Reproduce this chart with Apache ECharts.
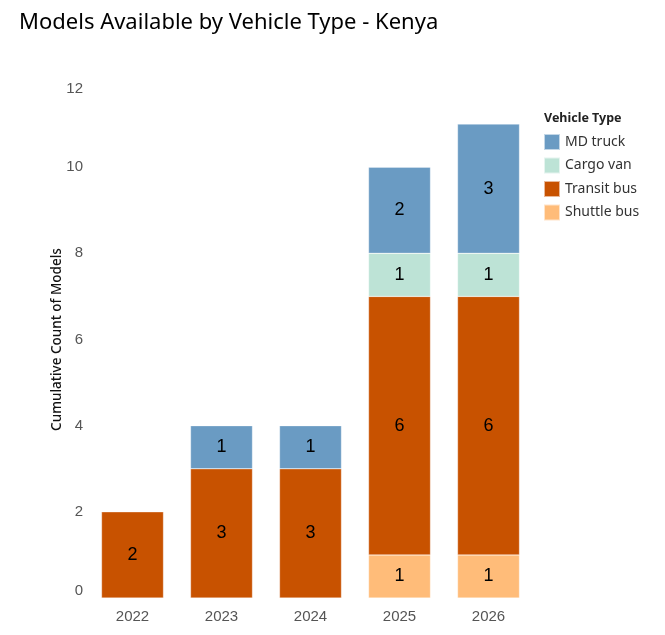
<!DOCTYPE html>
<html>
<head>
<meta charset="utf-8">
<script src="https://cdn.jsdelivr.net/npm/echarts@6/dist/echarts.min.js"></script>
<style>
  html, body { margin: 0; padding: 0; background: #fff; }
  #chart { width: 665px; height: 635px; }
</style>
</head>
<body>
<div id="chart"></div>
<script>
// 数据
const years = ["2022", "2023", "2024", "2025", "2026"];
const shuttleBus = [null, null, null, 1, 1];
const transitBus = [2, 3, 3, 6, 6];
const cargoVan = [null, null, null, 1, 1];
const mdTruck = [null, 1, 1, 2, 3];
const legendOrder = ["MD truck", "Cargo van", "Transit bus", "Shuttle bus"];

const font = "Noto Sans, sans-serif";
const numFont = "Liberation Sans, Arial, sans-serif";

// 单个堆叠系列
function makeSeries(name, data, color) {
  return {
    name: name,
    type: "bar",
    stack: "total",
    barWidth: 62,
    data: data,
    itemStyle: { color: color, borderColor: "rgba(255,255,255,0.6)", borderWidth: 0.5 },
    label: {
      show: true,
      position: "inside",
      color: "#000",
      fontSize: 18,
      fontFamily: numFont,
    },
  };
}

let chart = echarts.init(document.getElementById("chart"));
let option = {
  animation: false,
  title: [
    {
      text: "Models Available by Vehicle Type - Kenya",
      left: 14,
      top: 7,
      textStyle: { fontSize: 22, fontWeight: "normal", color: "#000", fontFamily: font },
    },
    {
      text: "Vehicle Type",
      left: 539,
      top: 107,
      textStyle: { fontSize: 12.5, fontWeight: "bold", color: "#222", fontFamily: font },
    },
  ],
  legend: {
    data: legendOrder,
    orient: "vertical",
    left: 538,
    top: 128,
    itemWidth: 16,
    itemHeight: 16,
    itemGap: 5.5,
    icon: "rect",
    textStyle: { fontSize: 14, color: "#333", fontFamily: font },
  },
  grid: {
    left: 88,
    right: 132,
    top: 81,
    bottom: 37,
  },
  xAxis: {
    type: "category",
    data: years,
    axisLine: { show: false },
    axisTick: { show: false },
    axisLabel: { fontSize: 15, color: "#555", margin: 11, fontFamily: numFont },
  },
  yAxis: {
    type: "value",
    min: 0,
    max: 12,
    interval: 2,
    name: "Cumulative Count of Models",
    nameLocation: "middle",
    nameGap: 24,
    nameMoveOverlap: false,
    nameTextStyle: { fontSize: 13.5, fontWeight: 500, color: "#111", fontFamily: font },
    splitLine: { show: false },
    axisLine: { show: false },
    axisTick: { show: false },
    axisLabel: {
      fontSize: 15,
      color: "#555",
      margin: 5,
      fontFamily: numFont,
      verticalAlignMinLabel: "bottom",
      verticalAlignMaxLabel: "top",
    },
  },
  series: [
    makeSeries("Shuttle bus", shuttleBus, "#ffbc79"),
    makeSeries("Transit bus", transitBus, "#c85200"),
    makeSeries("Cargo van", cargoVan, "#bde3d6"),
    makeSeries("MD truck", mdTruck, "#6a9bc3"),
  ],
};
chart.setOption(option);
</script>
</body>
</html>
